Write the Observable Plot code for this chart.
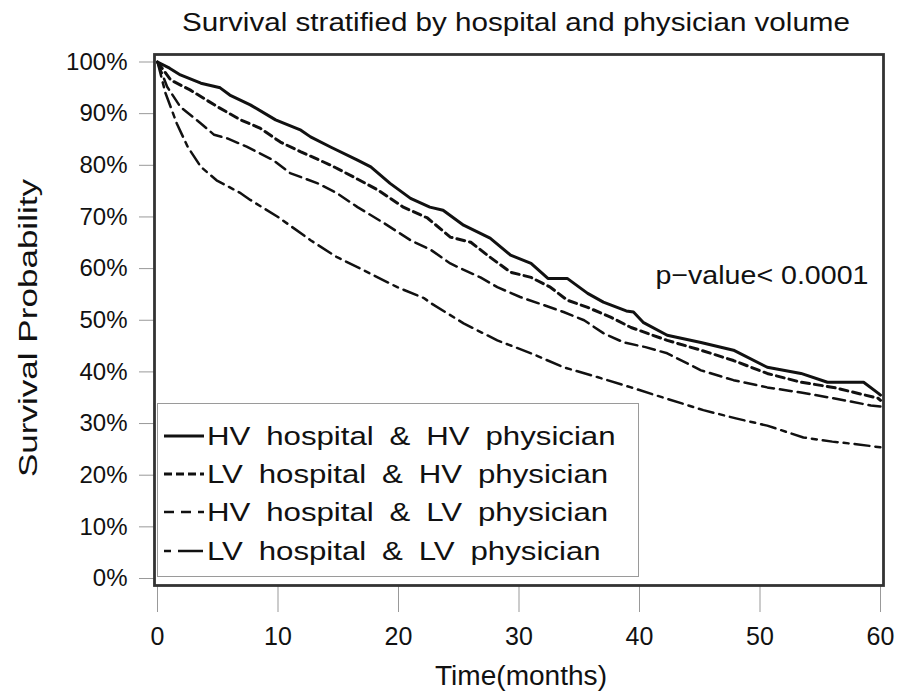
<!DOCTYPE html>
<html><head><meta charset="utf-8">
<script src="https://cdn.jsdelivr.net/npm/d3@7"></script>
<script src="https://cdn.jsdelivr.net/npm/@observablehq/plot@0.6"></script>
<style>
body{margin:0;background:#fff;font-family:"Liberation Sans",Arial,sans-serif;}
#wrap{position:relative;width:912px;height:695px;}
#legend{position:absolute;left:157px;top:403px;width:482px;height:174px;border:1.5px solid #9a9a9a;box-sizing:border-box;background:#fff;}
.row{position:absolute;left:0;height:38px;width:100%;}
.row svg{position:absolute;left:4px;top:0;}
.row span{position:absolute;left:49px;top:0;line-height:38px;font-size:26px;color:#111;transform:scaleX(1.2);transform-origin:0 50%;white-space:nowrap;word-spacing:6px;}
</style></head><body><div id="wrap"></div>
<script>
const titleText = "Survival stratified by hospital and physician volume";
const xLabel = "Time(months)";
const yLabel = "Survival Probability";
const pValueText = "p\u2212value< 0.0001";
const xTicks = [0, 10, 20, 30, 40, 50, 60];
const yTicks = [0, 0.1, 0.2, 0.3, 0.4, 0.5, 0.6, 0.7, 0.8, 0.9, 1.0];

const seriesNames = [
  "HV hospital & HV physician",
  "LV hospital & HV physician",
  "HV hospital & LV physician",
  "LV hospital & LV physician"
];

// HV hospital & HV physician
const timeHH = [0, 1, 1.9, 3.6, 5.2, 6, 7.7, 9.8, 11.9, 12.7, 14.4, 16.6, 17.7, 19.3, 21, 22.6, 23.7, 25.4, 27.6, 29.3, 31, 32.4, 34, 35.7, 37, 38.9, 39.5, 40.3, 42.3, 45.1, 47.8, 50.6, 53.4, 55.6, 58.6, 59.8, 60];
const survHH = [100, 98.8, 97.5, 95.9, 95, 93.6, 91.7, 88.8, 86.8, 85.5, 83.5, 81, 79.7, 76.5, 73.6, 71.9, 71.3, 68.4, 65.9, 62.6, 61, 58.1, 58.1, 55.2, 53.5, 51.8, 51.6, 49.6, 47.1, 45.7, 44.2, 40.9, 39.7, 38, 38, 35.9, 35.5];
// LV hospital & HV physician
const timeLH = [0, 1.1, 2.7, 5, 6.9, 8.5, 10.2, 11.9, 14.4, 16.3, 18.3, 20.4, 22.4, 24.3, 26, 27.6, 29.3, 31, 32.6, 34, 35.7, 37.6, 39.3, 42.3, 45.1, 47.8, 50.6, 53.4, 56.1, 59.8, 60];
const survLH = [100, 96.5, 94.6, 91.3, 88.8, 87.2, 84.5, 82.6, 80, 77.7, 75.2, 71.9, 69.8, 66.1, 65.1, 62.2, 59.3, 58.3, 56.4, 53.9, 52.5, 50.6, 48.6, 46.1, 44.2, 42.2, 39.7, 38, 37, 34.9, 34.5];
// HV hospital & LV physician
const timeHL = [0, 0.8, 1.9, 3.6, 4.7, 5.8, 7.4, 9.6, 11, 13.3, 14.9, 16.6, 18.8, 21, 22.7, 24.3, 25.1, 26.8, 28.2, 30.1, 32.1, 33.7, 35.4, 37, 38.7, 40.5, 42.3, 45.1, 47.8, 50.6, 53.4, 56.1, 59.2, 60];
const survHL = [100, 95.2, 91.3, 88.1, 85.9, 85.2, 83.6, 81, 78.5, 76.5, 74.6, 71.9, 68.8, 65.5, 63.6, 61, 60.1, 58.3, 56.4, 54.5, 52.9, 51.6, 50, 47.5, 45.7, 44.8, 43.6, 40.3, 38.4, 37, 36, 34.9, 33.5, 33.3];
// LV hospital & LV physician
const timeLL = [0, 0.66, 1.6, 2.5, 3.6, 4.9, 6.9, 7.7, 10, 12.7, 14.9, 17.1, 19.9, 22.1, 22.7, 25.4, 28.2, 31, 33.7, 36.5, 39.3, 42, 45.3, 48, 50.6, 53.6, 56, 58, 60];
const survLL = [100, 94, 88.1, 83.6, 79.7, 77.1, 74.6, 73.3, 70, 65.5, 62.2, 59.7, 56.4, 54.3, 53.3, 49.4, 46.1, 43.6, 40.9, 39, 37, 35, 32.6, 31, 29.6, 27.3, 26.5, 26, 25.4];

const pValuePos = {t: 59, s: 0.587};

const times = [timeHH, timeLH, timeHL, timeLL];
const survs = [survHH, survLH, survHL, survLL];
const styles = [
  {strokeWidth: 3, dash: "none", legendDash: ""},
  {strokeWidth: 3, dash: "8,5", legendDash: "8,4"},
  {strokeWidth: 2.5, dash: "12,6", legendDash: "10,7"},
  {strokeWidth: 2.5, dash: "15,6,5,6", legendDash: "7,7,18,0"}
];

const rows = seriesNames.map((name, k) => times[k].map((t, i) => ({series: name, t, s: survs[k][i] / 100})));

const font = "'Liberation Sans', Arial, sans-serif";
const plot = Plot.plot({
  width: 912,
  height: 695,
  marginLeft: 154,
  marginRight: 29,
  marginTop: 54,
  marginBottom: 110,
  style: {fontFamily: font, background: "#fff", color: "#111"},
  x: {domain: [0, 60], range: [157, 880]},
  y: {domain: [0, 1], range: [578, 61.5]},
  marks: [
    Plot.axisY({ticks: yTicks, tickFormat: d => Math.round(d * 100) + "%", tickSize: 15, tickPadding: 12, fontSize: 24, stroke: "#999", fill: "#111", label: null}),
    Plot.axisX({ticks: xTicks, tickFormat: d => String(d), tickSize: 27, tickPadding: 15, fontSize: 25, stroke: "#999", fill: "#111", label: null}),
    ...rows.map((r, k) => Plot.line(r, {x: "t", y: "s", stroke: "#111", strokeWidth: styles[k].strokeWidth, strokeDasharray: styles[k].dash})),
    Plot.frame({stroke: "#333", strokeWidth: 2.8}),
    Plot.text([pValuePos], {x: "t", y: "s", text: () => pValueText, textAnchor: "end", lineAnchor: "middle", fontSize: 26, fill: "#111"}),
    Plot.text([titleText], {frameAnchor: "top", textAnchor: "middle", lineAnchor: "middle", dx: -3, dy: -32, fontSize: 26, fill: "#111"}),
    Plot.text([yLabel], {frameAnchor: "left", textAnchor: "middle", lineAnchor: "middle", rotate: -90, dx: -126, dy: 8, fontSize: 25, fill: "#111"}),
    Plot.text([xLabel], {frameAnchor: "bottom", textAnchor: "middle", lineAnchor: "middle", dx: 2, dy: 91, fontSize: 27, fill: "#111"})
  ]
});

const wrap = document.getElementById("wrap");
wrap.appendChild(plot);

// the reference letters are wider than Liberation Sans: stretch these texts to the widths seen there
const stretch = new Map([[pValueText, 213], [titleText, 668], [yLabel, 298], [xLabel, 172]]);
d3.select(plot).selectAll("text").each(function() {
  const w = stretch.get(this.textContent);
  if (!w) return;
  this.setAttribute("textLength", w);
  this.setAttribute("lengthAdjust", "spacingAndGlyphs");
});

const legend = document.createElement("div");
legend.id = "legend";
const rowCenters = [32, 70, 108, 147];
seriesNames.forEach((name, k) => {
  const row = document.createElement("div");
  row.className = "row";
  row.style.top = (rowCenters[k] - 19) + "px";
  row.innerHTML = `<svg width="44" height="38"><line x1="2" y1="19" x2="42" y2="19" stroke="#111" stroke-width="${styles[k].strokeWidth}" stroke-dasharray="${styles[k].legendDash}"/></svg><span></span>`;
  row.querySelector("span").textContent = name;
  legend.appendChild(row);
});
wrap.appendChild(legend);
</script>
</body></html>
